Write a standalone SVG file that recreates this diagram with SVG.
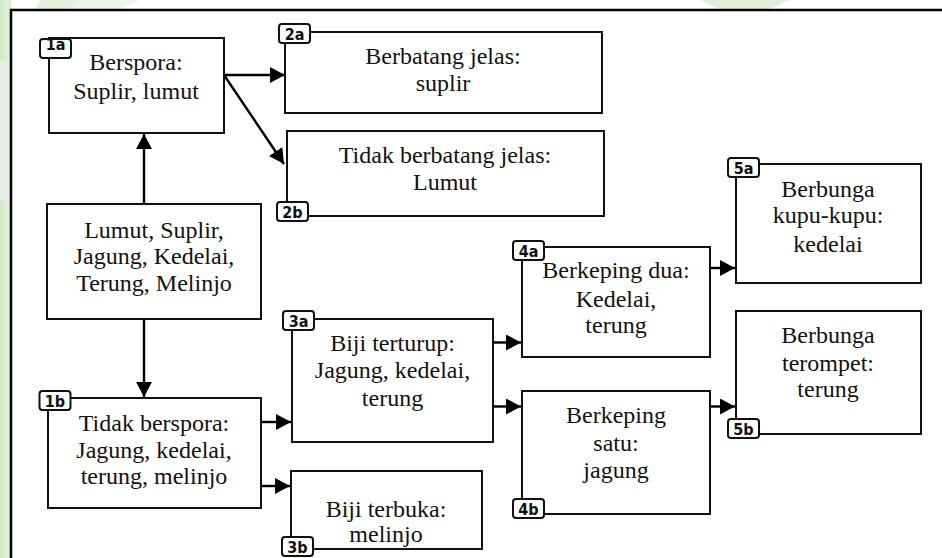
<svg xmlns="http://www.w3.org/2000/svg" width="942" height="558" viewBox="0 0 942 558">
<defs>
<style>
.box{fill:#fff;stroke:#111;stroke-width:2}
.tag{fill:#fff;stroke:#111;stroke-width:2}
.t{font-family:"Liberation Serif","Times New Roman",serif;font-size:24px;fill:#111;text-anchor:middle}
.tg{font-family:"Liberation Sans Narrow","DejaVu Sans Condensed","Liberation Sans",sans-serif;font-size:16px;font-weight:bold;fill:#111;text-anchor:middle}
.c{stroke:#000;stroke-width:2.4;fill:none;marker-end:url(#ah)}
</style>
<marker id="ah" markerUnits="userSpaceOnUse" markerWidth="17" markerHeight="17" refX="15" refY="8" orient="auto">
<path d="M0,0 L15,8 L0,16 z" fill="#000"/>
</marker>
<linearGradient id="gl" x1="0" y1="0" x2="1" y2="0">
<stop offset="0" stop-color="#d2eacb"/><stop offset="1" stop-color="#e2f2dc"/>
</linearGradient>
</defs>
<rect width="942" height="558" fill="#fff"/>
<g id="watermark">
<rect x="0" y="0" width="11" height="558" fill="url(#gl)"/>
<rect x="0" y="60" width="11" height="140" fill="#e6ede4"/>
<polygon points="40,0 80,0 75,9 35,9" fill="#e3f1dd"/>
<polygon points="80,0 140,0 120,9 70,9" fill="#edf6ea"/>
<polygon points="700,0 790,0 770,9 720,9" fill="#e0f0da"/>
</g>
<path d="M11,558 V10 H942" fill="none" stroke="#000" stroke-width="2.5"/>
<g id="connectors">
<line class="c" x1="144" y1="204" x2="144" y2="134"/>
<line class="c" x1="144" y1="319" x2="144" y2="397"/>
<line class="c" x1="224" y1="75" x2="285" y2="75"/>
<line class="c" x1="224" y1="75" x2="284" y2="164"/>
<line class="c" x1="261" y1="422" x2="291" y2="422"/>
<line class="c" x1="261" y1="486" x2="290" y2="486"/>
<line class="c" x1="493" y1="342.5" x2="521" y2="342.5"/>
<line class="c" x1="493" y1="406.5" x2="521" y2="406.5"/>
<line class="c" x1="710" y1="268" x2="735" y2="268"/>
<line class="c" x1="710" y1="406.5" x2="735" y2="406.5"/>
</g>
<g id="root">
<rect class="box" x="47" y="204" width="214" height="115"/>
<text class="t" x="154" y="238">Lumut, Suplir,</text>
<text class="t" x="154" y="264">Jagung, Kedelai,</text>
<text class="t" x="154" y="291">Terung, Melinjo</text>
</g>
<g id="n1a">
<rect class="box" x="49" y="38" width="175" height="95"/>
<text class="t" x="136" y="70">Berspora:</text>
<text class="t" x="136" y="99">Suplir, lumut</text>
<rect class="tag" x="40" y="39" width="31" height="19" rx="3"/>
<text class="tg" x="55.5" y="50">1a</text>
</g>
<g id="n1b">
<rect class="box" x="48" y="398" width="213" height="110"/>
<text class="t" x="154" y="431">Tidak berspora:</text>
<text class="t" x="154" y="458">Jagung, kedelai,</text>
<text class="t" x="154" y="484">terung, melinjo</text>
<rect class="tag" x="39.5" y="391" width="31" height="19" rx="3"/>
<text class="tg" x="55" y="407">1b</text>
</g>
<g id="n2a">
<rect class="box" x="285" y="32" width="317" height="81"/>
<text class="t" x="443" y="64">Berbatang jelas:</text>
<text class="t" x="443" y="91">suplir</text>
<rect class="tag" x="279" y="24" width="31" height="19" rx="3"/>
<text class="tg" x="294.5" y="40">2a</text>
</g>
<g id="n2b">
<rect class="box" x="287" y="131" width="317" height="85"/>
<text class="t" x="445" y="163">Tidak berbatang jelas:</text>
<text class="t" x="445" y="190">Lumut</text>
<rect class="tag" x="277" y="202" width="31" height="19" rx="3"/>
<text class="tg" x="292.5" y="218">2b</text>
</g>
<g id="n3a">
<rect class="box" x="292" y="319" width="201" height="123"/>
<text class="t" x="392.5" y="351">Biji terturup:</text>
<text class="t" x="392.5" y="378">Jagung, kedelai,</text>
<text class="t" x="392.5" y="406">terung</text>
<rect class="tag" x="283" y="311" width="31" height="19" rx="3"/>
<text class="tg" x="298.5" y="327">3a</text>
</g>
<g id="n3b">
<rect class="box" x="291" y="471" width="191" height="78"/>
<text class="t" x="386" y="517">Biji terbuka:</text>
<text class="t" x="386" y="542">melinjo</text>
<rect class="tag" x="282" y="537" width="31" height="19" rx="3"/>
<text class="tg" x="297.5" y="553">3b</text>
</g>
<g id="n4a">
<rect class="box" x="522" y="247" width="188" height="110"/>
<text class="t" x="616" y="278">Berkeping dua:</text>
<text class="t" x="616" y="307">Kedelai,</text>
<text class="t" x="616" y="333">terung</text>
<rect class="tag" x="513" y="241" width="31" height="19" rx="3"/>
<text class="tg" x="528.5" y="257">4a</text>
</g>
<g id="n4b">
<rect class="box" x="522" y="391" width="188" height="123"/>
<text class="t" x="616" y="423">Berkeping</text>
<text class="t" x="616" y="451">satu:</text>
<text class="t" x="616" y="478">jagung</text>
<rect class="tag" x="513" y="499" width="31" height="19" rx="3"/>
<text class="tg" x="528.5" y="515">4b</text>
</g>
<g id="n5a">
<rect class="box" x="736" y="164" width="185" height="119"/>
<text class="t" x="828" y="197">Berbunga</text>
<text class="t" x="828" y="223">kupu-kupu:</text>
<text class="t" x="828" y="252">kedelai</text>
<rect class="tag" x="728" y="158" width="31" height="19" rx="3"/>
<text class="tg" x="743.5" y="174">5a</text>
</g>
<g id="n5b">
<rect class="box" x="736" y="311" width="185" height="123"/>
<text class="t" x="828" y="343">Berbunga</text>
<text class="t" x="828" y="371">terompet:</text>
<text class="t" x="828" y="397">terung</text>
<rect class="tag" x="728" y="419" width="31" height="19" rx="3"/>
<text class="tg" x="743.5" y="435">5b</text>
</g>
</svg>
